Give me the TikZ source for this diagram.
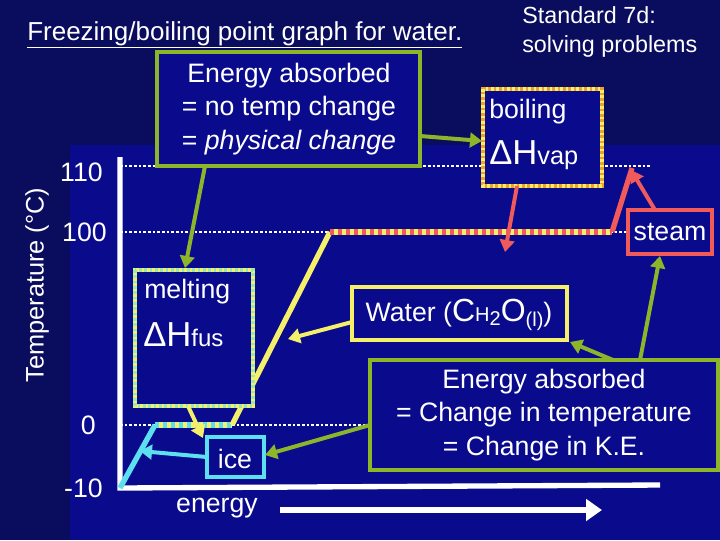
\documentclass[tikz,border=0pt]{standalone}
\usepackage{fontspec}
\setmainfont{Liberation Sans}
\usetikzlibrary{arrows.meta}
\definecolor{bgA}{HTML}{0A0C5E}
\definecolor{bgB}{HTML}{0A0A8C}
\definecolor{grn}{HTML}{8DB52A}
\definecolor{yel}{HTML}{F5F06A}
\definecolor{cya}{HTML}{5CE0F0}
\definecolor{rd}{HTML}{F05A5A}
\definecolor{org}{HTML}{F0A030}
\tikzset{
 txt/.style={text=white,font=\fontsize{20}{23}\selectfont,inner sep=0pt},
 bx/.style={draw=#1,line width=3.5pt,fill=bgB},
 arr/.style={draw=#1,line width=3pt,-{Triangle[length=9pt,width=11pt]}},
 dots/.style={white,line width=2pt,dash pattern=on 2pt off 1.5pt},
}
\begin{document}
\begin{tikzpicture}[x=0.75pt,y=-0.75pt]
\useasboundingbox (0,0) rectangle (720,540);
\fill[bgA] (0,0) rectangle (720,540);
\fill[bgB] (70,145) rectangle (720,540);
% dotted levels
\draw[dots] (120,166) -- (650,166);
\draw[dots] (120,232) -- (630,232);
\draw[dots] (120,425) -- (380,425);
% axes
\draw[white,line width=4pt] (120,157) -- (120,488) -- (660,485);
% curve
\draw[cya,line width=4pt] (120,488) -- (155,425);
\draw[yel,line width=4pt] (155,425) -- (232,425);
\draw[cya,line width=4pt,dash pattern=on 3pt off 3pt] (155,425) -- (232,425);
\draw[yel,line width=4pt] (232,425) -- (330,232);
\draw[yel,line width=4pt] (330,232) -- (612,232);
\draw[rd,line width=4pt,dash pattern=on 3pt off 3pt] (330,232) -- (612,232);
\draw[rd,line width=4pt] (612,232) -- (632,168);
% tick labels
\node[txt,anchor=east] (t110) at (103,172) {110};
\node[txt,anchor=east] (t100) at (107,232) {100};
\node[txt,anchor=east] (t0) at (96,425) {0};
\node[txt,anchor=east] (tm10) at (103,488) {-10};
\node[txt,rotate=90,font=\fontsize{19}{22}\selectfont] (ylab) at (37,285) {Temperature (°C)};
% title
\node[txt,anchor=west,font=\fontsize{19.5}{23}\selectfont] (title) at (27,35) {\underline{Freezing/boiling point graph for water.}};
\node[txt,anchor=west,align=left,font=\fontsize{17.5}{22}\selectfont] (std) at (522,32) {Standard 7d:\\solving problems};
% boxes
\draw[bx=grn] (157,52) rectangle (420,166);
\node[txt,align=center] (g1) at (289,109) {Energy absorbed\\[2pt]= no temp change\\[2pt]= \textit{physical change}};
\coordinate (g1b) at (205,166); \coordinate (g1r) at (420,136);
\draw[bx=org] (483,89) rectangle (602,186);
\draw[yel,line width=3.5pt,dash pattern=on 2pt off 2pt] (483,89) rectangle (602,186);
\node[txt,anchor=west] (boil) at (489,112) {boiling};
\node[txt,anchor=west] (dhv) at (489,155) {\fontsize{26}{26}\selectfont ΔH\fontsize{19}{19}\selectfont vap};
\coordinate (boilb) at (517,186);
\draw[bx=yel] (135,270) rectangle (253,406);
\draw[cya!60!yel,line width=3.5pt,dash pattern=on 2pt off 2pt] (135,270) rectangle (253,406);
\node[txt,anchor=west] (melt) at (144,292) {melting};
\node[txt,anchor=west] (dhf) at (143,335) {\fontsize{26}{26}\selectfont ΔH\fontsize{18}{18}\selectfont fus};
\draw[bx=cya] (207,437) rectangle (264,477);
\node[txt] (ice) at (235,459) {ice};
\draw[bx=yel] (352,287) rectangle (567,340);
\node[txt] (water) at (459,315) {Water (\fontsize{24}{24}\selectfont C\fontsize{15}{15}\selectfont H\raisebox{-3pt}{2}\fontsize{24}{24}\selectfont O\fontsize{15}{15}\selectfont \raisebox{-4pt}{(l)}\fontsize{20}{20}\selectfont)};
\draw[bx=grn] (370,360) rectangle (718,470);
\node[txt,align=center] (g2) at (544,415) {Energy absorbed\\[2pt]= Change in temperature\\[2pt]= Change in K.E.};
\draw[bx=rd] (628,210) rectangle (712,254);
\node[txt] (steam) at (670,232) {steam};
% arrows
\draw[arr=grn] (g1b) -- (185,268);
\draw[arr=grn] (g1r) -- (482,141);
\draw[arr=rd] (boilb) -- (505,252);
\draw[arr=yel] (188,406) -- (203,438);
\draw[arr=cya] (207,457) -- (140,451);
\draw[arr=yel] (352,322) -- (288,339);
\draw[arr=grn] (370,425) -- (265,455);
\draw[arr=grn] (613,360) -- (570,342);
\draw[arr=grn] (640,360) -- (660,256);
\draw[arr=rd] (655,210) -- (631,170);
% energy
\node[txt] (en) at (217,508) {energy};
\draw[white,line width=5pt,-{Triangle[length=12pt,width=16pt]}] (280,510) -- (602,510);
\end{tikzpicture}
\end{document}
